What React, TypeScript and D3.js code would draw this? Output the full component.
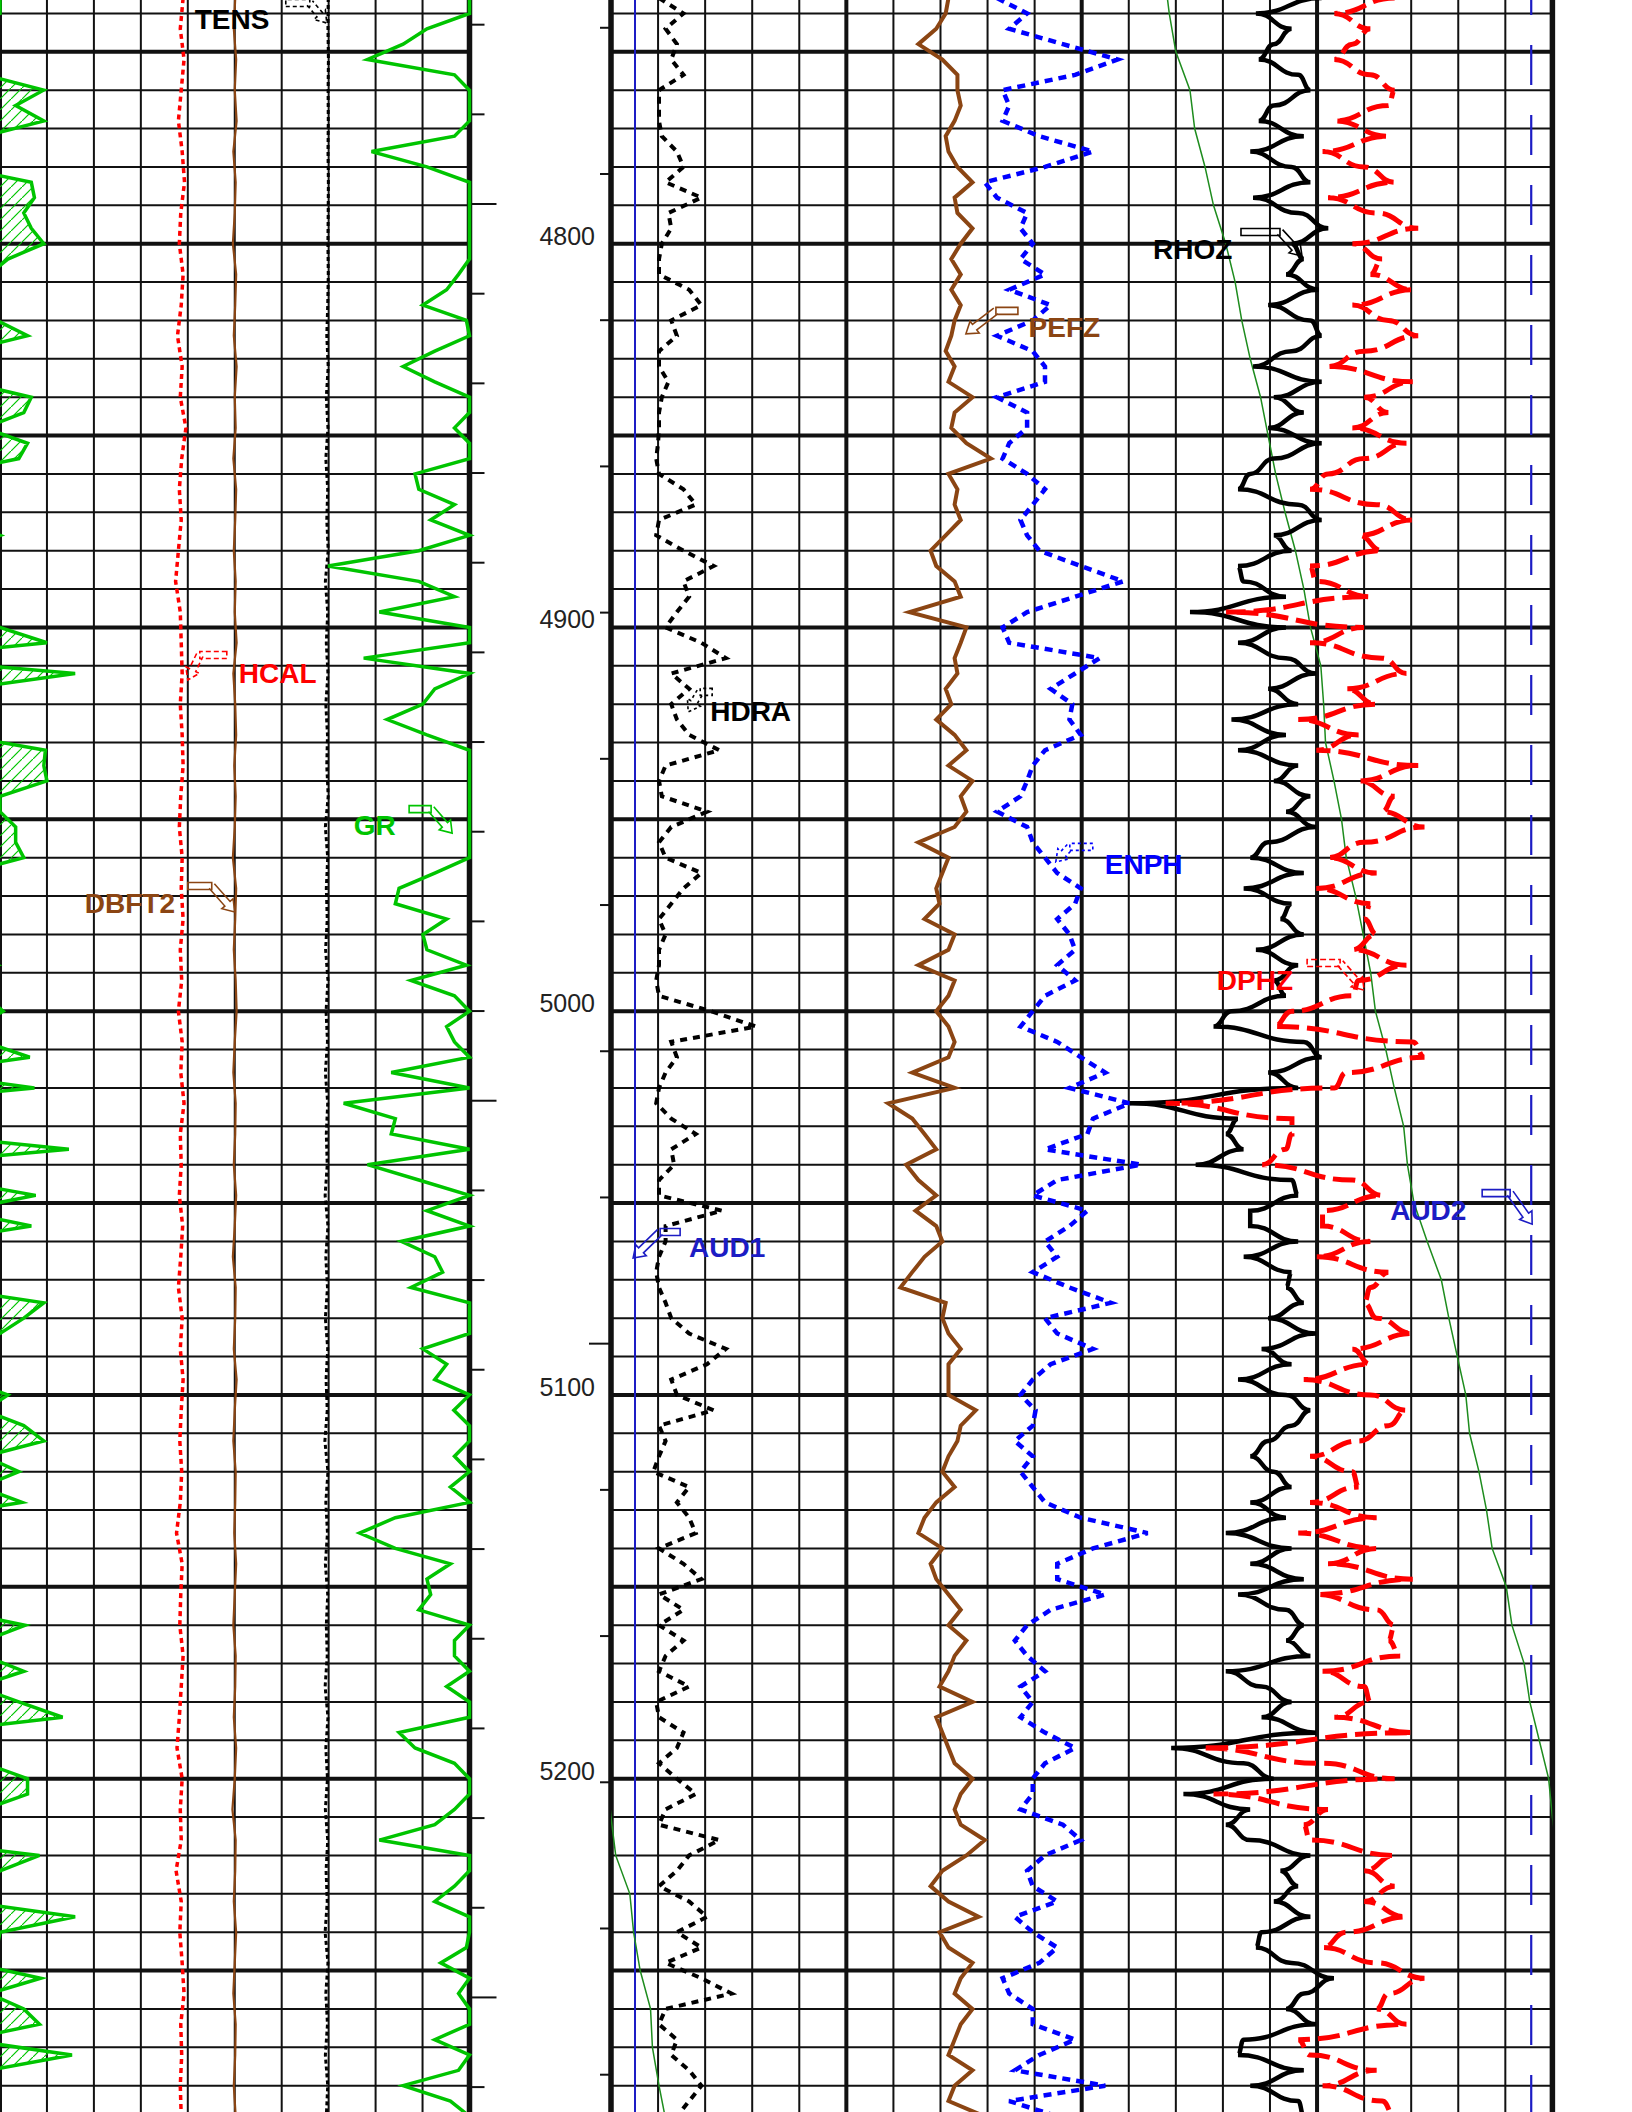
import React from "react";
import * as d3 from "d3";

const WIDTH = 1632;
const HEIGHT = 2112;

// Depth window of the print (ft); 4800 ft sits at y = 243.7, 3.8375 px per ft
const DEPTH_TOP = 4736.5;
const DEPTH_BOTTOM = 5286.86;
const DEPTH_LABELS = [4800, 4900, 5000, 5100, 5200];
const GRID_TOP = 4740;
const GRID_BOTTOM = 5280;

// Minute time marks beside the depth column
const LEFT_MARK_START = 4742.93;
const LEFT_MARK_STEP = 23.367;
const LEFT_MARK_COUNT = 24;
const LEFT_MARK_LONG = [2, 12, 22];
const RIGHT_MARK_START = 4743.74;
const RIGHT_MARK_STEP = 38.1;
const RIGHT_MARK_COUNT = 15;
const RIGHT_MARK_LONG = [9];

// Main curves, one sample every 4 ft starting at 4736 ft
const MAIN_TOP = 4736;
const MAIN_STEP = 4;

// Gamma ray, gAPI (values above 150 wrap onto the backup scale)
const GR = [
  150, 150, 136.4, 128.8, 117.4, 145.2, 163.9, 155, 164, 145.2,
  118.7, 136.4, 160, 161, 157.6, 160, 164, 152.5, 146.5, 142.7,
  135.1, 149, 158.8, 138.9, 128.8, 138.9, 160, 157.6, 145.2, 158.8,
  156, 132.6, 133.8, 145.2, 137.6, 150, 133.8, 104.8, 133.8, 145.2,
  121.2, 150, 165, 116.2, 174, 138.9, 135.1, 123.7, 136.4, 164.5,
  164, 165, 150, 150, 155, 155, 157.6, 138.9, 127.5, 126.3,
  142.7, 135.1, 136.4, 149, 131.3, 145.2, 151, 142.7, 145.2, 159.5,
  125, 161, 109.8, 126.3, 125, 172, 117.4, 133.8, 161.4, 136.4,
  160, 128.2, 138.9, 141.4, 131.3, 164, 157.6, 150, 135.1, 142.7,
  138.9, 152.5, 145, 157.6, 164, 145.2, 156, 143.9, 157, 126.3,
  114.9, 126.3, 143.9, 136.4, 137.6, 133.8, 158, 145.2, 145.2, 157.6,
  142.7, 156, 170, 127.5, 132.6, 145.2, 158.8, 158.8, 145.2, 138.9,
  121.2, 162.6, 150, 145.2, 138.9, 174, 150, 149, 140.8, 163,
  146.5, 157.6, 162.6, 138.9, 173, 146.5, 128.8, 143.9, 150,
];

// Bulk density, g/cc
const RHOZ = [
  2.705, 2.635, 2.673, 2.654, 2.638, 2.68, 2.693, 2.654, 2.638, 2.686,
  2.629, 2.673, 2.693, 2.632, 2.68, 2.712, 2.673, 2.686, 2.667, 2.702,
  2.648, 2.693, 2.705, 2.673, 2.632, 2.705, 2.654, 2.686, 2.648, 2.705,
  2.654, 2.629, 2.616, 2.68, 2.705, 2.654, 2.673, 2.616, 2.622, 2.667,
  2.565, 2.667, 2.616, 2.667, 2.699, 2.648, 2.68,
  2.609, 2.667, 2.616, 2.68, 2.654, 2.693, 2.667, 2.699, 2.648, 2.629,
  2.686, 2.622, 2.673, 2.661, 2.686, 2.635, 2.68, 2.654, 2.667, 2.609,
  2.59, 2.686, 2.705, 2.648, 2.68, 2.501, 2.616, 2.603, 2.622, 2.571,
  2.673, 2.68, 2.629, 2.629, 2.68, 2.622, 2.673, 2.667, 2.686, 2.648,
  2.699, 2.641, 2.673, 2.616, 2.667, 2.693,
  2.673, 2.648, 2.629, 2.654, 2.673, 2.629, 2.667, 2.603, 2.673, 2.629,
  2.686, 2.616, 2.667, 2.686, 2.667, 2.693, 2.603, 2.641, 2.673, 2.641,
  2.699, 2.545, 2.622, 2.654, 2.558, 2.629, 2.603, 2.629, 2.693, 2.661,
  2.68, 2.654, 2.693, 2.641, 2.635, 2.673, 2.718, 2.686, 2.667, 2.699,
  2.622, 2.616, 2.686, 2.629, 2.68, 2.686,
];

// Density porosity, v/v
const DPHZ = [
  0.051, 0.128, 0.082, 0.105, 0.128, 0.082, 0.051, 0.059, 0.128, 0.059,
  0.143, 0.09, 0.051, 0.136, 0.074, 0.021, 0.105, 0.067, 0.082, 0.028,
  0.105, 0.059, 0.021, 0.09, 0.136, 0.028, 0.09, 0.059, 0.105, 0.036,
  0.09, 0.136, 0.159, 0.074, 0.028, 0.097, 0.067, 0.159, 0.151, 0.082,
  0.266, 0.09, 0.159, 0.067, 0.036, 0.113, 0.074,
  0.174, 0.097, 0.151, 0.021, 0.097, 0.051, 0.067, 0.013, 0.09, 0.136,
  0.074, 0.151, 0.082, 0.09, 0.074, 0.105, 0.036, 0.097, 0.105, 0.182,
  0.205, 0.028, 0.013, 0.113, 0.128, 0.343, 0.182, 0.182, 0.19, 0.22,
  0.105, 0.067, 0.143, 0.143, 0.082, 0.151, 0.059, 0.082, 0.09, 0.074,
  0.028, 0.105, 0.082, 0.167, 0.082, 0.036,
  0.059, 0.097, 0.159, 0.105, 0.097, 0.159, 0.074, 0.174, 0.074, 0.136,
  0.028, 0.151, 0.074, 0.051, 0.059, 0.044, 0.143, 0.09, 0.082, 0.128,
  0.028, 0.297, 0.143, 0.051, 0.282, 0.136, 0.167, 0.159, 0.051, 0.09,
  0.051, 0.09, 0.036, 0.113, 0.143, 0.074, 0.013, 0.059, 0.074, 0.036,
  0.174, 0.159, 0.074, 0.143, 0.067, 0.051,
];

// Thermal neutron porosity, v/v
const ENPH = [
  0.34, 0.308, 0.327, 0.27, 0.212, 0.257, 0.334, 0.327, 0.334, 0.295,
  0.238, 0.289, 0.353, 0.34, 0.308, 0.315, 0.302, 0.315, 0.289, 0.327,
  0.283, 0.302, 0.34, 0.302, 0.289, 0.289, 0.34, 0.308, 0.308, 0.327,
  0.334, 0.308, 0.289, 0.302, 0.315, 0.308, 0.295, 0.251, 0.206, 0.257,
  0.308, 0.334, 0.327, 0.231, 0.257, 0.283, 0.26,
  0.263, 0.251, 0.289, 0.302, 0.308, 0.315, 0.34, 0.308, 0.302, 0.289,
  0.276, 0.251, 0.257, 0.276, 0.263, 0.257, 0.276, 0.257, 0.289, 0.302,
  0.315, 0.276, 0.251, 0.225, 0.263, 0.199, 0.238, 0.244, 0.289, 0.187,
  0.276, 0.302, 0.244, 0.263, 0.289, 0.276, 0.302, 0.263, 0.219, 0.289,
  0.276, 0.238, 0.283, 0.302, 0.315, 0.299,
  0.302, 0.321, 0.302, 0.315, 0.302, 0.289, 0.251, 0.18, 0.238, 0.276,
  0.276, 0.225, 0.283, 0.308, 0.321, 0.308, 0.289, 0.315, 0.302, 0.315,
  0.289, 0.257, 0.289, 0.302, 0.302, 0.315, 0.27, 0.251, 0.289, 0.308,
  0.302, 0.276, 0.321, 0.302, 0.276, 0.295, 0.334, 0.327, 0.302, 0.302,
  0.257, 0.295, 0.321, 0.225, 0.327, 0.276,
];

// Photoelectric factor, b/e
const PEFZ = [
  2.17, 2.11, 1.91, 1.53, 2.04, 2.36, 2.36, 2.43, 2.3, 2.11,
  2.17, 2.36, 2.68, 2.3, 2.36, 2.68, 2.43, 2.23, 2.43, 2.23,
  2.43, 2.3, 2.23, 2.11, 2.3, 2.17, 2.68, 2.3, 2.23, 2.55,
  3.07, 2.17, 2.36, 2.3, 2.43, 2.11, 1.79, 1.91, 2.3, 2.43,
  1.34, 2.55, 2.43, 2.3, 2.36, 2.11, 2.23,
  1.91, 2.3, 2.55, 2.17, 2.68, 2.43, 2.55, 2.3, 1.53, 2.17,
  2.04, 1.91, 1.98, 1.66, 2.3, 2.17, 1.53, 2.3, 2.17, 1.91,
  2.17, 2.3, 2.17, 1.4, 2.3, 0.89, 1.4, 1.66, 1.91, 1.27,
  1.53, 1.91, 1.47, 1.91, 2.04, 1.66, 1.4, 1.15, 2.11, 2.04,
  2.17, 2.43, 2.17, 2.17, 2.17, 2.75,
  2.43, 2.36, 2.17, 2.04, 2.3, 1.91, 1.66, 1.53, 2.04, 1.79,
  1.91, 2.17, 2.43, 2.17, 2.55, 2.3, 2.17, 1.98, 2.68, 1.91,
  2.04, 2.17, 2.3, 2.68, 2.43, 2.3, 2.43, 2.94, 2.55, 2.04,
  1.79, 2.17, 2.81, 1.98, 2.17, 2.68, 2.43, 2.3, 2.68, 2.43,
  2.3, 2.17, 2.68, 2.3, 2.17, 2.94,
];

// Density correction, g/cc
const HDRA = [
  0.001, 0.027, 0.008, 0.02, 0.014, 0.027, 0.001, 0.001, 0.001, 0.004,
  0.02, 0.027, 0.008, 0.046, 0.011, 0.014, 0.004, 0.001, 0.001, 0.033,
  0.046, 0.014, 0.02, 0.001, 0.001, 0.011, 0.004, 0.001, 0.001, 0.0,
  -0.002, 0.001, 0.027, 0.04, 0.001, -0.002, 0.027, 0.059, 0.027, 0.033,
  0.02, 0.008, 0.046, 0.072, 0.014, 0.033, 0.014,
  0.02, 0.033, 0.065, 0.008, 0.001, 0.004, 0.052, 0.014, 0.001, 0.008,
  0.046, 0.027, 0.014, 0.001, 0.008, 0.001, 0.001, -0.002, 0.001, 0.056,
  0.104, 0.014, 0.02, 0.008, 0.001, -0.002, 0.014, 0.04, 0.014, 0.017,
  0.001, 0.001, 0.068, 0.008, 0.008, 0.001, -0.002, 0.001, 0.008, 0.014,
  0.033, 0.072, 0.052, 0.014, 0.02, 0.059,
  0.001, 0.008, 0.001, -0.005, 0.033, 0.02, 0.033, 0.04, 0.001, 0.027,
  0.046, 0.001, 0.027, 0.001, 0.027, 0.008, 0.001, 0.033, -0.002, 0.001,
  0.027, 0.02, 0.001, 0.02, 0.04, 0.008, 0.001, 0.065, 0.033, 0.02,
  0.001, 0.033, 0.052, 0.02, 0.046, 0.008, 0.046, 0.078, 0.008, 0.001,
  0.02, 0.014, 0.033, 0.046, 0.033, 0.02,
];

// Mechanical curves, one sample every 8 ft starting at 4736 ft
const AUX_TOP = 4736;
const AUX_STEP = 8;

// Caliper, in
const HCAL = [
  9.9, 9.84, 9.92, 9.86, 9.8, 9.88, 9.93, 9.85, 9.82, 9.9,
  9.86, 9.78, 9.88, 9.84, 9.96, 9.87, 9.82, 9.86, 9.8, 9.74,
  9.84, 9.86, 9.88, 9.84, 9.88, 9.9, 9.85, 9.82, 9.88, 9.86,
  9.9, 9.84, 9.87, 9.8, 9.88, 9.85, 9.92, 9.84, 9.86, 9.82,
  9.89, 9.85, 9.8, 9.88, 9.84, 9.9, 9.86, 9.83, 9.87, 9.84,
  9.76, 9.88, 9.85, 9.83, 9.9, 9.86, 9.82, 9.77, 9.88, 9.84,
  9.86, 9.75, 9.86, 9.83, 9.88, 9.92, 9.85, 9.87, 9.84, 9.86,
];

const DBFT2 = [
  5.01, 4.98, 5.03, 5.0, 5.04, 4.97, 5.02, 5.0, 4.96, 5.03,
  5.01, 4.98, 5.04, 5.0, 5.02, 4.97, 5.03, 5.01, 4.98, 5.02,
  5.0, 5.04, 4.97, 5.01, 5.03, 4.99, 5.02, 5.0, 4.96, 5.03,
  5.01, 4.98, 5.02, 5.04, 5.0, 4.97, 5.02, 5.01, 4.98, 5.03,
  5.0, 4.96, 5.02, 5.01, 4.98, 5.04, 5.0, 4.97, 5.02, 5.01,
  4.99, 5.03, 5.0, 4.97, 5.02, 5.01, 4.98, 5.03, 5.0, 4.95,
  5.02, 5.01, 4.98, 5.03, 5.0, 4.97, 5.02, 5.01, 4.98, 5.02,
];

// Cable tension, lbf
const TENS = [
  6990, 6985, 6995, 6988, 6992, 6986, 6994, 6990, 6984, 6992,
  6980, 6960, 6990, 6950, 6985, 6940, 6980, 6960, 6990, 6930,
  6980, 6950, 6985, 6940, 6975, 6960, 6990, 6930, 6980, 6950,
  6970, 6935, 6985, 6945, 6975, 6930, 6980, 6950, 6970, 6925,
  6985, 6940, 6975, 6930, 6980, 6945, 6970, 6920, 6985, 6940,
  6975, 6930, 6980, 6950, 6970, 6925, 6985, 6940, 6975, 6930,
  6980, 6945, 6970, 6925, 6985, 6940, 6975, 6930, 6980, 6950,
];

// Temperature, degF, one sample every 10 ft from 4730 ft (wraps past 200)
const MTEM_TOP = 4730;
const MTEM_STEP = 10;
const MTEM = [
  158.8, 159.3, 160.0, 161.5, 162.0, 163.1, 164.0, 165.3, 166.3, 167.0,
  167.9, 169.0, 169.8, 170.6, 171.6, 172.7, 173.6, 174.3, 175.4, 175.7,
  175.9, 176.8, 177.6, 178.1, 179.1, 179.9, 180.7, 181.2, 182.3, 183.2,
  184.2, 184.6, 185.3, 186.7, 188.2, 189.0, 189.9, 190.8, 191.2, 192.2,
  193.0, 193.6, 195.1, 195.7, 197.0, 197.6, 198.6, 199.6, 200.0, 200.5,
  202.0, 202.4, 203.1, 204.2, 204.4, 205.1, 205.9,
];

// Acoustic references
const AUD_DEPTHS = [4730, 5290];
const AUD1 = [0.51, 0.51];
const AUD2 = [19.55, 19.55];

const BROWN = "#8b4513";
const GREEN = "#00c400";
const RED = "#ff0000";
const BLUE = "#0000ff";
const AUD_BLUE = "#1c1cc4";
const FONT = "'Liberation Sans', Arial, Helvetica, sans-serif";

const LEFT_RANGE: [number, number] = [0, 469.5];
const RIGHT_RANGE: [number, number] = [611, 1552.4];

type Label = {
  text: string;
  color: string;
  track: "left" | "right";
  div: number;
  depth: number;
  textDx: number;
  textDy: number;
  tail: [number, number];
  knee: [number, number];
  dash?: string;
};

const LABELS: Label[] = [
  { text: "TENS", color: "#000", track: "left", div: 6.96, depth: 4742.5, textDx: -132, textDy: 6, tail: [-41, -20], knee: [-17, -20], dash: "4 3" },
  { text: "HCAL", color: RED, track: "left", div: 4.0, depth: 4913.7, textDx: 51, textDy: 2.5, tail: [39, -25], knee: [12, -25], dash: "5 3" },
  { text: "DBFT2", color: BROWN, track: "left", div: 5.0, depth: 4974.15, textDx: -150, textDy: 1, tail: [-47, -26], knee: [-23, -26] },
  { text: "GR", color: GREEN, track: "left", div: 9.63, depth: 4953.6, textDx: -98.5, textDy: 2, tail: [-43, -24], knee: [-21, -24] },
  { text: "RHOZ", color: "#000", track: "right", div: 14.68, depth: 4803.2, textDx: -149, textDy: 3.5, tail: [-61, -24], knee: [-22, -24] },
  { text: "PEFZ", color: BROWN, track: "right", div: 7.54, depth: 4823.5, textDx: 62.7, textDy: 3.6, tail: [52, -23], knee: [30, -23] },
  { text: "HDRA", color: "#000", track: "right", div: 1.64, depth: 4922.0, textDx: 22, textDy: 9, tail: [24, -20], knee: [12, -20], dash: "3 3" },
  { text: "ENPH", color: BLUE, track: "right", div: 9.45, depth: 4961.1, textDx: 49, textDy: 12, tail: [37, -15], knee: [14, -15], dash: "3 3" },
  { text: "DPHZ", color: RED, track: "right", div: 16.0, depth: 4994.5, textDx: -147.3, textDy: -0.4, tail: [-57, -27], knee: [-24, -27], dash: "6 3" },
  { text: "AUD1", color: AUD_BLUE, track: "right", div: 0.47, depth: 5064.3, textDx: 56, textDy: -1, tail: [47, -26], knee: [27, -26] },
  { text: "AUD2", color: AUD_BLUE, track: "right", div: 19.57, depth: 5055.5, textDx: -142, textDy: -4.5, tail: [-50, -31], knee: [-22, -31] },
];

function unit(a: [number, number], b: [number, number]): [number, number] {
  const dx = b[0] - a[0];
  const dy = b[1] - a[1];
  const len = Math.hypot(dx, dy) || 1;
  return [dx / len, dy / len];
}

// Hollow bent arrow: flag from tail to knee, then shaft and head to the tip
function arrowPath(tail: [number, number], knee: [number, number], tip: [number, number]) {
  const hw = 3.5;
  const headHw = 7.5;
  const headLen = 11;
  const [ux, uy] = unit(tail, knee);
  const nx = -uy;
  const ny = ux;
  const flag =
    `M${tail[0] + nx * hw},${tail[1] + ny * hw}L${knee[0] + nx * hw},${knee[1] + ny * hw}` +
    `L${knee[0] - nx * hw},${knee[1] - ny * hw}L${tail[0] - nx * hw},${tail[1] - ny * hw}Z`;
  const [vx, vy] = unit(knee, tip);
  const mx = -vy;
  const my = vx;
  const hx = tip[0] - vx * headLen;
  const hy = tip[1] - vy * headLen;
  const head =
    `M${knee[0] + mx * hw},${knee[1] + my * hw}L${hx + mx * hw},${hy + my * hw}` +
    `L${hx + mx * headHw},${hy + my * headHw}L${tip[0]},${tip[1]}` +
    `L${hx - mx * headHw},${hy - my * headHw}L${hx - mx * hw},${hy - my * hw}` +
    `L${knee[0] - mx * hw},${knee[1] - my * hw}`;
  return flag + head;
}

export default function App() {
  const y = d3.scaleLinear().domain([DEPTH_TOP, DEPTH_BOTTOM]).range([0, HEIGHT]);
  const leftX = d3.scaleLinear().domain([0, 10]).range(LEFT_RANGE);
  const rightX = d3.scaleLinear().domain([0, 20]).range(RIGHT_RANGE);

  const mainDepth = (i: number) => MAIN_TOP + i * MAIN_STEP;
  const auxDepth = (i: number) => AUX_TOP + i * AUX_STEP;
  const mtemDepth = (i: number) => MTEM_TOP + i * MTEM_STEP;

  const curvePath = (
    values: number[],
    scale: d3.ScaleLinear<number, number>,
    depthAt: (i: number) => number,
    curve: d3.CurveFactory = d3.curveLinear
  ) =>
    d3
      .line<number>()
      .curve(curve)
      .x((v) => scale(v))
      .y((_, i) => y(depthAt(i)))(values) || "";

  // Track 1 scales
  const grMain = d3.scaleLinear().domain([0, 150]).range(LEFT_RANGE).clamp(true);
  const grBackup = d3.scaleLinear().domain([150, 300]).range(LEFT_RANGE);
  const hcalX = d3.scaleLinear().domain([6, 16]).range(LEFT_RANGE);
  const dbftX = d3.scaleLinear().domain([0, 10]).range(LEFT_RANGE);
  const tensX = d3.scaleLinear().domain([0, 10000]).range(LEFT_RANGE);

  // Track 2 scales
  const hdraX = d3.scaleLinear().domain([-0.05, 0.95]).range(RIGHT_RANGE);
  const pefX = d3.scaleLinear().domain([-5, 15]).range(RIGHT_RANGE);
  const enphX = d3.scaleLinear().domain([0.75, -0.25]).range(RIGHT_RANGE);
  const rhoX = d3.scaleLinear().domain([1.95, 2.95]).range(RIGHT_RANGE);
  const dphzX = d3.scaleLinear().domain([0.45, -0.15]).range([rightX(10), rightX(20)]);
  const mtemX = d3.scaleLinear().domain([100, 200]).range(RIGHT_RANGE);
  const mtemWrapX = d3.scaleLinear().domain([200, 300]).range(RIGHT_RANGE);
  const audX = d3.scaleLinear().domain([0, 20]).range(RIGHT_RANGE);

  const grArea =
    d3
      .area<number>()
      .x0(() => grBackup(150))
      .x1((v) => grBackup(v))
      .y((_, i) => y(mainDepth(i)))(GR) || "";

  const audPath = (values: number[]) =>
    d3
      .line<number>()
      .x((v) => audX(v))
      .y((_, i) => y(AUD_DEPTHS[i]))(values) || "";

  const gridDepths = d3.range(GRID_TOP, GRID_BOTTOM + 1, 10);

  const hLines = (range: [number, number], key: string) =>
    gridDepths.map((d) => (
      <line
        key={`${key}-h-${d}`}
        x1={range[0]}
        x2={range[1]}
        y1={y(d)}
        y2={y(d)}
        stroke="#111"
        strokeWidth={d % 50 === 0 ? 4 : 2}
      />
    ));

  const leftV = d3.range(0, 11).map((i) => (
    <line
      key={`l-v-${i}`}
      x1={i === 0 ? 1 : leftX(i)}
      x2={i === 0 ? 1 : leftX(i)}
      y1={0}
      y2={HEIGHT}
      stroke="#111"
      strokeWidth={i === 10 ? 5.5 : 2}
    />
  ));

  const rightV = d3.range(0, 21).map((i) => (
    <line
      key={`r-v-${i}`}
      x1={rightX(i)}
      x2={rightX(i)}
      y1={0}
      y2={HEIGHT}
      stroke="#111"
      strokeWidth={i === 0 || i === 20 ? 5.5 : i % 5 === 0 ? 4 : 2}
    />
  ));

  const leftMarks = d3.range(LEFT_MARK_COUNT).map((k) => {
    const yy = y(LEFT_MARK_START + k * LEFT_MARK_STEP);
    const long = LEFT_MARK_LONG.includes(k);
    return (
      <line key={`lm-${k}`} x1={LEFT_RANGE[1]} x2={LEFT_RANGE[1] + (long ? 27 : 15)} y1={yy} y2={yy} stroke="#111" strokeWidth={2} />
    );
  });

  const rightMarks = d3.range(RIGHT_MARK_COUNT).map((k) => {
    const yy = y(RIGHT_MARK_START + k * RIGHT_MARK_STEP);
    const long = RIGHT_MARK_LONG.includes(k);
    return (
      <line key={`rm-${k}`} x1={RIGHT_RANGE[0]} x2={RIGHT_RANGE[0] - (long ? 22 : 11)} y1={yy} y2={yy} stroke="#111" strokeWidth={2} />
    );
  });

  const labels = LABELS.map((lb) => {
    const tx = (lb.track === "left" ? leftX : rightX)(lb.div);
    const ty = y(lb.depth);
    const d = arrowPath(
      [tx + lb.tail[0], ty + lb.tail[1]],
      [tx + lb.knee[0], ty + lb.knee[1]],
      [tx, ty]
    );
    return (
      <g key={`lab-${lb.text}`}>
        <path d={d} fill="none" stroke={lb.color} strokeWidth={1.6} strokeDasharray={lb.dash} />
        <text
          x={tx + lb.textDx}
          y={ty + lb.textDy}
          fill={lb.color}
          fontFamily={FONT}
          fontWeight="bold"
          fontSize={28}
        >
          {lb.text}
        </text>
      </g>
    );
  });

  return (
    <svg
      width={WIDTH}
      height={HEIGHT}
      viewBox={`0 0 ${WIDTH} ${HEIGHT}`}
      style={{ position: "absolute", left: 0, top: 0, background: "#fff" }}
    >
      <defs>
        <clipPath id="clip-left">
          <rect x={LEFT_RANGE[0]} y={0} width={LEFT_RANGE[1] - LEFT_RANGE[0]} height={HEIGHT} />
        </clipPath>
        <clipPath id="clip-right">
          <rect x={RIGHT_RANGE[0]} y={0} width={RIGHT_RANGE[1] - RIGHT_RANGE[0]} height={HEIGHT} />
        </clipPath>
        <pattern id="gr-hatch" patternUnits="userSpaceOnUse" width={11} height={11}>
          <path d="M-1,12 L12,-1" stroke={GREEN} strokeWidth={1.2} />
        </pattern>
      </defs>

      <rect x={0} y={0} width={WIDTH} height={HEIGHT} fill="#fff" />

      {/* grid */}
      {hLines(LEFT_RANGE, "l")}
      {hLines(RIGHT_RANGE, "r")}
      {leftV}
      {rightV}
      {leftMarks}
      {rightMarks}

      {/* depth annotations */}
      {DEPTH_LABELS.map((d) => (
        <text
          key={`dl-${d}`}
          x={595}
          y={y(d) + 1}
          textAnchor="end"
          fontFamily={FONT}
          fontSize={25}
          fill="#222"
        >
          {d}
        </text>
      ))}

      {/* track 1 */}
      <g clipPath="url(#clip-left)">
        <path d={grArea} fill="url(#gr-hatch)" stroke="none" />
        <path d={curvePath(GR, grBackup, mainDepth)} fill="none" stroke={GREEN} strokeWidth={3.5} />
        <path d={curvePath(HCAL, hcalX, auxDepth)} fill="none" stroke={RED} strokeWidth={3.5} strokeDasharray="5 4" />
        <path d={curvePath(DBFT2, dbftX, auxDepth)} fill="none" stroke={BROWN} strokeWidth={2.2} />
        <path d={curvePath(TENS, tensX, auxDepth)} fill="none" stroke="#000" strokeWidth={3} strokeDasharray="4 3" />
      </g>
      <path d={curvePath(GR, grMain, mainDepth)} fill="none" stroke={GREEN} strokeWidth={3.5} />

      {/* track 2 */}
      <g clipPath="url(#clip-right)">
        <path d={audPath(AUD1)} fill="none" stroke={AUD_BLUE} strokeWidth={2} />
        <path d={audPath(AUD2)} fill="none" stroke={AUD_BLUE} strokeWidth={2.2} strokeDasharray="40 30" />
        <path d={curvePath(MTEM, mtemX, mtemDepth)} fill="none" stroke="#1e8c1e" strokeWidth={1.5} />
        <path d={curvePath(MTEM, mtemWrapX, mtemDepth)} fill="none" stroke="#1e8c1e" strokeWidth={1.5} />
        <path d={curvePath(HDRA, hdraX, mainDepth)} fill="none" stroke="#000" strokeWidth={4} strokeDasharray="7 6" />
        <path d={curvePath(PEFZ, pefX, mainDepth)} fill="none" stroke={BROWN} strokeWidth={4} />
        <path d={curvePath(ENPH, enphX, mainDepth)} fill="none" stroke={BLUE} strokeWidth={4.5} strokeDasharray="8 6" />
        <path d={curvePath(RHOZ, rhoX, mainDepth, d3.curveBumpX)} fill="none" stroke="#000" strokeWidth={4.5} />
        <path d={curvePath(DPHZ, dphzX, mainDepth, d3.curveBumpX)} fill="none" stroke={RED} strokeWidth={5} strokeDasharray="22 8" />
      </g>

      {labels}
    </svg>
  );
}
